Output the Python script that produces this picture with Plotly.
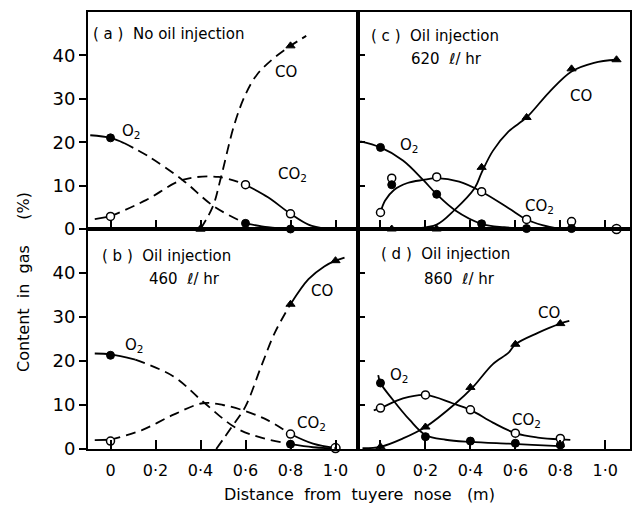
import plotly.graph_objects as go
from plotly.subplots import make_subplots

# ---------------- data ----------------
x_tick_vals = [0, 0.2, 0.4, 0.6, 0.8, 1.0]
x_tick_text = ["0", "0·2", "0·4", "0·6", "0·8", "1·0"]
y_tick_vals = [0, 10, 20, 30, 40]
y_tick_text = ["0", "10", "20", "30", "40"]

# (a) No oil injection
a_o2_x = [0, 0.6, 0.8]
a_o2_y = [21.0, 1.3, 0.0]
a_co2_x = [0, 0.6, 0.8]
a_co2_y = [2.9, 10.2, 3.5]
a_co_x = [0.4, 0.8]
a_co_y = [0.0, 42.2]
a_o2_curve_x = [-0.09, 0, 0.06, 0.17, 0.32, 0.46, 0.6, 0.7, 0.8]
a_o2_curve_y = [21.6, 21.0, 19.8, 16.7, 11.3, 5.2, 1.3, 0.4, 0.0]
a_co2_curve_x = [-0.07, 0, 0.16, 0.32, 0.48, 0.6, 0.7, 0.8, 0.88, 0.96]
a_co2_curve_y = [2.3, 2.9, 6.7, 11.3, 12.0, 10.2, 7.3, 3.5, 1.0, 0.0]
a_co_curve_x = [0.4, 0.455, 0.49, 0.55, 0.6, 0.65, 0.72, 0.8, 0.87]
a_co_curve_y = [0.0, 5.2, 11.7, 24.0, 31.0, 35.5, 39.1, 42.2, 44.5]

# (b) Oil injection 460 l/hr
b_o2_x = [0, 0.8]
b_o2_y = [21.3, 1.1]
b_co2_x = [0, 0.8]
b_co2_y = [1.8, 3.4]
b_mix_x = [1.0]
b_mix_y = [0.2]
b_co_x = [0.8, 1.0]
b_co_y = [32.9, 42.8]
b_o2_curve_x = [-0.07, 0, 0.11, 0.28, 0.41, 0.56, 0.67, 0.8, 0.9, 1.0]
b_o2_curve_y = [21.7, 21.5, 20.3, 16.5, 10.8, 4.7, 2.6, 1.1, 0.4, 0.1]
b_co2_curve_x = [-0.07, 0, 0.14, 0.28, 0.41, 0.5, 0.6, 0.7, 0.8, 0.9, 1.0]
b_co2_curve_y = [2.0, 2.1, 4.3, 7.8, 10.4, 10.0, 8.6, 6.5, 3.4, 1.2, 0.2]
b_co_curve_x = [0.47, 0.54, 0.6, 0.67, 0.73, 0.8, 0.88, 0.95, 1.0, 1.04]
b_co_curve_y = [0.0, 5.1, 9.7, 18.8, 26.4, 32.9, 38.6, 41.5, 42.8, 43.5]

# (c) Oil injection 620 l/hr
c_o2_x = [0, 0.05, 0.25, 0.45, 0.65, 0.85]
c_o2_y = [18.8, 10.2, 8.0, 1.2, 0.1, 0.1]
c_co2_x = [0, 0.05, 0.25, 0.45, 0.65, 0.85]
c_co2_y = [3.8, 11.7, 12.0, 8.6, 2.2, 1.7]
c_mix_x = [1.05]
c_mix_y = [0.0]
c_co_x = [0.05, 0.25, 0.45, 0.65, 0.85, 1.05]
c_co_y = [0.0, 0.0, 14.2, 25.7, 36.9, 39.0]
c_o2_curve_x = [-0.09, 0, 0.1, 0.19, 0.25, 0.33, 0.45, 0.55, 0.65, 0.8, 1.0, 1.08]
c_o2_curve_y = [20.2, 18.8, 15.8, 11.3, 8.0, 4.4, 1.2, 0.4, 0.1, 0.0, 0.0, 0.0]
c_co2_curve_x = [0, 0.02, 0.06, 0.12, 0.19, 0.25, 0.35, 0.45, 0.57, 0.65, 0.72, 0.8]
c_co2_curve_y = [3.8, 6.5, 9.0, 10.6, 11.3, 11.7, 10.9, 8.6, 4.8, 2.2, 0.9, 0.0]
c_co_curve_x = [0.05, 0.15, 0.25, 0.33, 0.42, 0.45, 0.5, 0.57, 0.65, 0.75, 0.85, 0.95, 1.05]
c_co_curve_y = [0.0, 0.1, 1.0, 4.4, 9.5, 13.0, 18.0, 22.5, 25.7, 31.5, 36.3, 38.3, 39.0]

# (d) Oil injection 860 l/hr
d_o2_x = [0, 0.2, 0.4, 0.6, 0.8]
d_o2_y = [15.0, 2.8, 1.8, 1.3, 0.9]
d_co2_x = [0, 0.2, 0.4, 0.6, 0.8]
d_co2_y = [9.3, 12.3, 8.9, 3.6, 2.4]
d_co_x = [0, 0.2, 0.4, 0.6, 0.8]
d_co_y = [0.5, 5.0, 14.0, 23.8, 28.5]
d_o2_curve_x = [-0.01, 0.0, 0.055, 0.13, 0.2, 0.29, 0.4, 0.57, 0.7, 0.82]
d_o2_curve_y = [16.8, 15.0, 11.2, 6.6, 3.2, 2.1, 1.6, 1.2, 0.9, 0.6]
d_co2_curve_x = [-0.03, 0, 0.1, 0.2, 0.32, 0.4, 0.5, 0.6, 0.7, 0.8, 0.87]
d_co2_curve_y = [8.8, 9.3, 11.5, 12.3, 10.4, 8.9, 6.0, 3.6, 2.6, 2.2, 2.0]
d_co_curve_x = [-0.08, 0, 0.1, 0.2, 0.335, 0.41, 0.5, 0.57, 0.6, 0.7, 0.8, 0.84]
d_co_curve_y = [0.2, 0.5, 2.4, 5.0, 10.4, 14.0, 19.3, 21.9, 23.8, 26.4, 28.5, 29.1]

# line-style segments (start index, end index, style)
a_o2_seg = [(0, 2, "solid"), (2, 6, "dash"), (6, 8, "solid")]
a_co2_seg = [(0, 1, "solid"), (1, 5, "dash"), (5, 9, "solid")]
a_co_seg = [(0, 8, "dash")]
b_o2_seg = [(0, 2, "solid"), (2, 7, "dash"), (7, 9, "solid")]
b_co2_seg = [(0, 1, "solid"), (1, 8, "dash"), (8, 10, "solid")]
b_co_seg = [(0, 5, "dash"), (5, 8, "solid"), (8, 9, "dash")]
d_co2_seg = [(0, 9, "solid"), (9, 10, "dash")]

# ---------------- figure ----------------
FONT = "DejaVu Sans"
fig = make_subplots(rows=2, cols=2, horizontal_spacing=0, vertical_spacing=0,
                    column_widths=[271, 273], row_heights=[217, 220])

DASH = "10px,6px"


def add_curve(row, col, xs, ys, segs=None):
    if segs is None:
        segs = [(0, len(xs) - 1, "solid")]
    for i0, i1, st in segs:
        fig.add_trace(go.Scatter(
            x=xs[i0:i1 + 1], y=ys[i0:i1 + 1], mode="lines",
            line=dict(color="black", width=1.8, shape="spline", smoothing=1.0,
                      dash=DASH if st == "dash" else "solid"),
            hoverinfo="skip", showlegend=False), row=row, col=col)


def add_marks(row, col, xs, ys, kind):
    if kind == "filled":
        mk = dict(symbol="circle", size=8, color="black", line=dict(color="black", width=1))
    elif kind == "open":
        mk = dict(symbol="circle", size=8, color="white", line=dict(color="black", width=1.5))
    elif kind == "mix":
        mk = dict(symbol="circle-dot", size=9, color="white", line=dict(color="black", width=1.5))
    elif kind == "tri":
        mk = dict(symbol="triangle-up", size=8, color="black", line=dict(color="black", width=1))
    else:
        mk = dict(symbol="triangle-up", size=8, color="white", line=dict(color="black", width=1.3))
    fig.add_trace(go.Scatter(x=xs, y=ys, mode="markers", marker=mk, cliponaxis=False,
                             hoverinfo="skip", showlegend=False), row=row, col=col)


# panel a
add_curve(1, 1, a_o2_curve_x, a_o2_curve_y, a_o2_seg)
add_curve(1, 1, a_co2_curve_x, a_co2_curve_y, a_co2_seg)
add_curve(1, 1, a_co_curve_x, a_co_curve_y, a_co_seg)
add_marks(1, 1, a_o2_x, a_o2_y, "filled")
add_marks(1, 1, a_co2_x, a_co2_y, "open")
add_marks(1, 1, a_co_x[:1], a_co_y[:1], "trio")
add_marks(1, 1, a_co_x[1:], a_co_y[1:], "tri")

# panel b
add_curve(2, 1, b_o2_curve_x, b_o2_curve_y, b_o2_seg)
add_curve(2, 1, b_co2_curve_x, b_co2_curve_y, b_co2_seg)
add_curve(2, 1, b_co_curve_x, b_co_curve_y, b_co_seg)
add_marks(2, 1, b_o2_x, b_o2_y, "filled")
add_marks(2, 1, b_co2_x, b_co2_y, "open")
add_marks(2, 1, b_mix_x, b_mix_y, "mix")
add_marks(2, 1, b_co_x, b_co_y, "tri")

# panel c
add_curve(1, 2, c_o2_curve_x, c_o2_curve_y)
add_curve(1, 2, c_co2_curve_x, c_co2_curve_y)
add_curve(1, 2, c_co_curve_x, c_co_curve_y)
add_marks(1, 2, c_co2_x, c_co2_y, "open")
add_marks(1, 2, c_o2_x, c_o2_y, "filled")
add_marks(1, 2, c_mix_x, c_mix_y, "mix")
add_marks(1, 2, c_co_x, c_co_y, "tri")

# panel d
add_curve(2, 2, d_o2_curve_x, d_o2_curve_y)
add_curve(2, 2, d_co2_curve_x, d_co2_curve_y, d_co2_seg)
add_curve(2, 2, d_co_curve_x, d_co_curve_y)
add_marks(2, 2, d_o2_x, d_o2_y, "filled")
add_marks(2, 2, d_co2_x, d_co2_y, "open")
add_marks(2, 2, d_co_x, d_co_y, "tri")

# axes
for r in (1, 2):
    for c in (1, 2):
        fig.update_xaxes(
            range=[-0.1, 1.1] if c == 1 else [-0.1, 1.11],
            tickvals=x_tick_vals, ticktext=x_tick_text,
            showticklabels=(r == 2), ticks="inside", ticklen=9, tickwidth=1.5,
            tickcolor="black", showline=True, mirror=True, linewidth=2, linecolor="black",
            showgrid=False, zeroline=False, ticklabelstandoff=6,
            tickfont=dict(family=FONT, size=16, color="black"), row=r, col=c)
        fig.update_yaxes(
            range=[0, 50], tickvals=y_tick_vals, ticktext=y_tick_text,
            showticklabels=(c == 1), ticks="outside" if c == 1 else "inside",
            ticklen=7, tickwidth=1.5, tickcolor="black",
            showline=True, mirror=True, linewidth=2, linecolor="black",
            showgrid=False, zeroline=False,
            tickfont=dict(family=FONT, size=18, color="black"), row=r, col=c)


def txt(row, col, x, y, s, size=15, anchor="center"):
    ax = fig.get_subplot(row, col)
    fig.add_annotation(x=x, y=y, xref=ax.xaxis.plotly_name.replace("axis", ""),
                       yref=ax.yaxis.plotly_name.replace("axis", ""),
                       text=s, showarrow=False, xanchor=anchor, yanchor="middle",
                       font=dict(family=FONT, size=size, color="black"))


txt(1, 1, -0.085, 45, "( a )  No oil injection", 15, "left")
txt(1, 1, 0.782, 36.1, "CO")
txt(1, 1, 0.095, 22.4, "O<sub>2</sub>")
txt(1, 1, 0.81, 12.5, "CO<sub>2</sub>")

txt(2, 1, -0.045, 43.9, "( b )  Oil injection", 15, "left")
txt(2, 1, 0.16, 38.6, "460  <i>ℓ</i>/ hr", 15, "left")
txt(2, 1, 0.942, 35.9, "CO")
txt(2, 1, 0.107, 23.5, "O<sub>2</sub>")
txt(2, 1, 0.895, 5.7, "CO<sub>2</sub>")

txt(1, 2, -0.05, 44.4, "( c )  Oil injection", 15, "left")
txt(1, 2, 0.128, 39.1, "620  <i>ℓ</i>/ hr", 15, "left")
txt(1, 2, 0.894, 30.6, "CO")
txt(1, 2, 0.13, 19.2, "O<sub>2</sub>")
txt(1, 2, 0.706, 5.1, "CO<sub>2</sub>")

txt(2, 2, -0.005, 44.3, "( d )  Oil injection", 15, "left")
txt(2, 2, 0.186, 38.6, "860  <i>ℓ</i>/ hr", 15, "left")
txt(2, 2, 0.748, 30.9, "CO")
txt(2, 2, 0.086, 16.7, "O<sub>2</sub>")
txt(2, 2, 0.648, 6.4, "CO<sub>2</sub>")

# axis titles
fig.add_annotation(x=-0.12, y=0.382, xref="paper", yref="paper", textangle=-90,
                   text="Content  in  gas     (%)", showarrow=False,
                   xanchor="center", yanchor="middle",
                   font=dict(family=FONT, size=16, color="black"))
fig.add_annotation(x=0.5, y=-0.105, xref="paper", yref="paper",
                   text="Distance  from  tuyere  nose   (m)", showarrow=False,
                   xanchor="center", yanchor="middle",
                   font=dict(family=FONT, size=16, color="black"))

fig.update_layout(width=639, height=514, margin=dict(l=88, r=7, t=12, b=65),
                  paper_bgcolor="white", plot_bgcolor="white", showlegend=False)

fig.write_html("out.html")
